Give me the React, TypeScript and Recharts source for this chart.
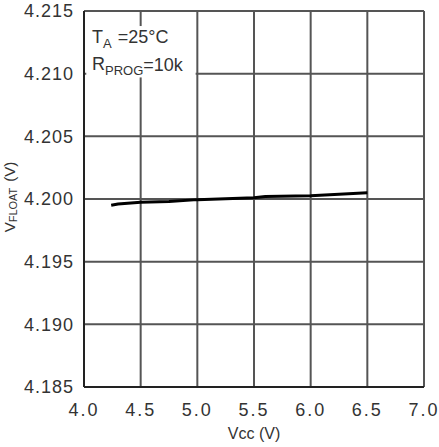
import React from 'react';
import { LineChart, Line, XAxis, YAxis, CartesianGrid, ReferenceArea } from 'recharts';

const vcc = [4.24, 4.3, 4.5, 4.75, 5.0, 5.5, 5.6, 6.0, 6.5];
const vfloat = [4.1995, 4.1996, 4.19975, 4.1998, 4.19995, 4.2001, 4.2002, 4.20025, 4.2005];
const xTicks = [4.0, 4.5, 5.0, 5.5, 6.0, 6.5, 7.0];
const yTicks = [4.185, 4.19, 4.195, 4.2, 4.205, 4.21, 4.215];

const data = vcc.map((v, i) => ({ vcc: v, vfloat: vfloat[i] }));

const FONT = '"Liberation Sans", Arial, sans-serif';
const TXT = '#333';

const AnnotationShape = (props: any) => {
  const { x, y, width, height } = props;
  return (
    <g>
      <rect x={x} y={y} width={width} height={height} fill="#fff" />
      <text x={92} y={43} fontFamily={FONT} fontSize={18} fill={TXT}>
        T
        <tspan fontSize={13} dy={5}>A</tspan>
        <tspan fontSize={18} dy={-5} dx={6}>=25°C</tspan>
      </text>
      <text x={92} y={70} fontFamily={FONT} fontSize={18} fill={TXT}>
        R
        <tspan fontSize={13} dy={5}>PROG</tspan>
        <tspan fontSize={18} dy={-4}>=10k</tspan>
      </text>
    </g>
  );
};

const YLabel = () => (
  <text
    transform="translate(15,197) rotate(-90)"
    textAnchor="middle"
    fontFamily={FONT}
    fontSize={15}
    fill={TXT}
  >
    V
    <tspan fontSize={11} dy={2}>FLOAT</tspan>
    <tspan fontSize={15} dy={-2} dx={6}>(V)</tspan>
  </text>
);

export default function App() {
  return (
    <div style={{ position: 'absolute', left: 0, top: 0 }}>
      <LineChart width={439} height={447} data={data} margin={{ top: 11, right: 15, bottom: 0, left: 0 }}>
        <CartesianGrid stroke="#555" strokeWidth={2} />
        <XAxis
          dataKey="vcc"
          type="number"
          domain={[4, 7]}
          ticks={xTicks}
          tickFormatter={(v: number) => v.toFixed(1)}
          height={60}
          axisLine={{ stroke: '#222', strokeWidth: 2 }}
          tickLine={false}
          tickMargin={10}
          tick={{ fontFamily: FONT, fontSize: 18, fill: TXT, letterSpacing: 2 }}
          label={{ value: 'Vcc (V)', position: 'insideBottom', offset: 8, fontFamily: FONT, fontSize: 16, fill: TXT }}
        />
        <YAxis
          type="number"
          domain={[4.185, 4.215]}
          ticks={yTicks}
          tickFormatter={(v: number) => v.toFixed(3)}
          width={84}
          axisLine={{ stroke: '#222', strokeWidth: 2 }}
          tickLine={false}
          tickMargin={4}
          tick={{ fontFamily: FONT, fontSize: 18, fill: TXT, letterSpacing: 1 }}
          label={<YLabel />}
        />
        <ReferenceArea
          x1={4.02}
          x2={4.985}
          y1={4.2097}
          y2={4.2138}
          shape={AnnotationShape}
          ifOverflow="visible"
        />
        <Line
          dataKey="vfloat"
          stroke="#000"
          strokeWidth={3}
          dot={false}
          type="linear"
          isAnimationActive={false}
        />
      </LineChart>
    </div>
  );
}
